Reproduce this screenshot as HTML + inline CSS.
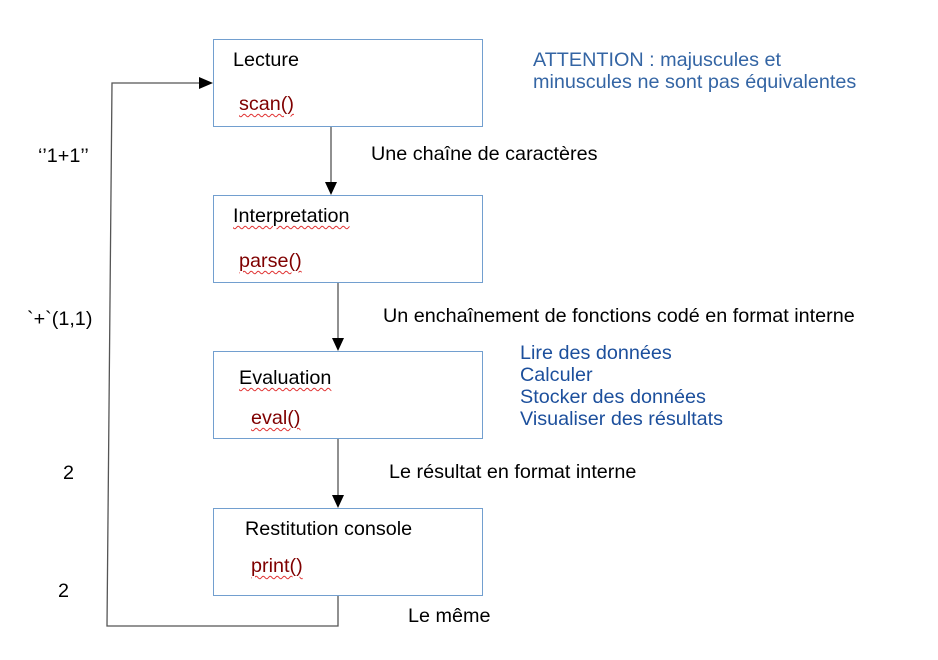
<!DOCTYPE html>
<html><head><style>
body{margin:0;background:#fff;width:938px;height:660px;overflow:hidden;position:relative;font-family:"Liberation Sans",sans-serif;font-size:19.8px;color:#000}
.t{position:absolute;white-space:nowrap;line-height:22px}
.box{position:absolute;left:213px;width:268px;height:86px;border:1px solid #729fcf;box-sizing:content-box}
.f{color:#7f0000;text-decoration:underline wavy #e03030;text-decoration-thickness:1px;text-underline-offset:3px}
.w{text-decoration:underline wavy #e03030;text-decoration-thickness:1px;text-underline-offset:3px}
.b{color:#3465a4}
.b2{color:#1c4f9c}
</style></head><body>
<div class="box" style="top:39px"></div>
<div class="box" style="top:195px"></div>
<div class="box" style="top:351px"></div>
<div class="box" style="top:508px"></div>
<svg width="938" height="660" style="position:absolute;left:0;top:0">
<g stroke="#555" stroke-width="1.3" fill="none">
<line x1="331" y1="127" x2="331" y2="184"/>
<line x1="338" y1="283" x2="338" y2="340"/>
<line x1="338" y1="439" x2="338" y2="497"/>
<polyline points="338,596 338,626 107,626 112,83 202,83"/>
</g>
<g fill="#000">
<polygon points="325,182 337,182 331,195"/>
<polygon points="332,338 344,338 338,351"/>
<polygon points="332,495 344,495 338,508"/>
<polygon points="199,77 199,89 213,83"/>
</g>
</svg>
<div class="t" style="left:233px;top:49px">Lecture</div>
<div class="t f" style="left:239px;top:93px">scan()</div>
<div class="t w" style="left:233px;top:205px">Interpretation</div>
<div class="t f" style="left:239px;top:250px">parse()</div>
<div class="t w" style="left:239px;top:367px">Evaluation</div>
<div class="t f" style="left:251px;top:407px">eval()</div>
<div class="t" style="left:245px;top:518px">Restitution console</div>
<div class="t f" style="left:251px;top:555px">print()</div>
<div class="t" style="left:371px;top:143px">Une chaîne de caractères</div>
<div class="t" style="left:383px;top:305px">Un enchaînement de fonctions codé en format interne</div>
<div class="t" style="left:389px;top:461px">Le résultat en format interne</div>
<div class="t" style="left:408px;top:605px">Le même</div>
<div class="t" style="left:38px;top:145px">‘’1+1’’</div>
<div class="t" style="left:27px;top:308px">`+`(1,1)</div>
<div class="t" style="left:63px;top:462px">2</div>
<div class="t" style="left:58px;top:580px">2</div>
<div class="t b" style="left:533px;top:49px">ATTENTION : majuscules et</div>
<div class="t b" style="left:533px;top:71px">minuscules ne sont pas équivalentes</div>
<div class="t b2" style="left:520px;top:342px">Lire des données</div>
<div class="t b2" style="left:520px;top:364px">Calculer</div>
<div class="t b2" style="left:520px;top:386px">Stocker des données</div>
<div class="t b2" style="left:520px;top:408px">Visualiser des résultats</div>
</body></html>
